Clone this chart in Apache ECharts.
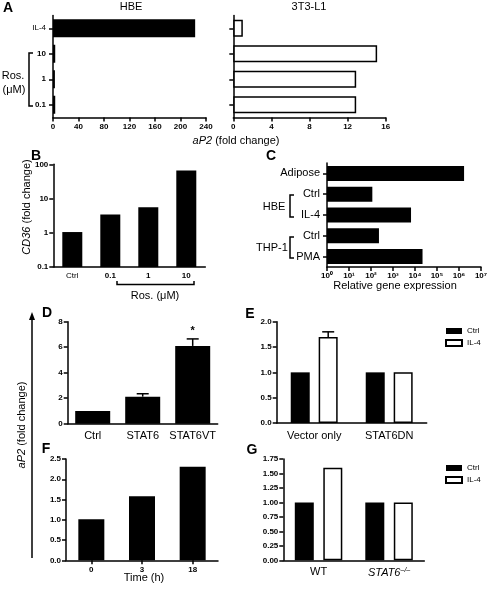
<!DOCTYPE html>
<html><head><meta charset="utf-8">
<script src="https://cdn.jsdelivr.net/npm/echarts@6/dist/echarts.min.js"></script>
<style>html,body{margin:0;padding:0;background:#fff}#c{width:491px;height:589px}</style>
</head><body><div id="c"></div>
<script>
const FONT = '"Liberation Sans", Arial, Helvetica, sans-serif';

// ---- data ----
// Panel A (aP2 fold change)
const aCats = ['IL-4', '10', '1', '0.1'];
const aHBE = [223, 3.5, 3, 3.5];
const a3T3 = [1.0, 15.1, 12.9, 12.9];
// Panel B (CD36 fold change, log)
const bCats = ['Ctrl', '0.1', '1', '10'];
const bVals = [1.05, 3.4, 5.6, 66];
// Panel C (relative gene expression, log)
const cKeys = ['Adipose', 'HBE Ctrl', 'HBE IL-4', 'THP-1 Ctrl', 'THP-1 PMA'];
const cLabels = ['Adipose', 'Ctrl', 'IL-4', 'Ctrl', 'PMA'];
const cVals = [1.7e6, 115, 6600, 230, 22000];
const cExpLabels = ['10⁰', '10¹', '10²', '10³', '10⁴', '10⁵', '10⁶', '10⁷'];
// Panel D
const dCats = ['Ctrl', 'STAT6', 'STAT6VT'];
const dVals = [1.0, 2.12, 6.1];
const dErr = [0, 0.23, 0.55];
const dSig = ['', '', '*'];
// Panel E
const eCats = ['Vector only', 'STAT6DN'];
const eCtrl = [1.0, 1.0];
const eIL4 = [1.70, 1.0];
const eIL4Err = [0.10, 0];
// Panel F
const fCats = ['0', '3', '18'];
const fVals = [1.01, 1.58, 2.31];
// Panel G
const gCats = ['WT', 'STAT6'];
const gCtrl = [1.0, 1.0];
const gIL4 = [1.60, 1.0];
const seriesNames = ['Ctrl', 'IL-4'];

// ---- styles ----
const axLine = { show: true, lineStyle: { color: '#000', width: 1.5 } };
const axTick = { show: true, length: 4, lineStyle: { color: '#000', width: 1.5 } };
const noSplit = { show: false };
function lbl(size, bold, margin, extra) {
  return Object.assign({ color: '#000', fontSize: size, fontWeight: bold ? 'bold' : 'normal', fontFamily: FONT, margin: margin, interval: 0, hideOverlap: false }, extra || {});
}
function valAxis(gi, min, max, interval, fmt, extra) {
  return Object.assign({
    gridIndex: gi, type: 'value', min, max, interval,
    axisLine: axLine, axisTick: axTick, splitLine: noSplit,
    axisLabel: lbl(8, true, 5, fmt ? { formatter: fmt } : {})
  }, extra || {});
}
function catAxis(gi, data, label, ticks, extra) {
  return Object.assign({
    gridIndex: gi, type: 'category', data,
    axisLine: axLine,
    axisTick: ticks ? Object.assign({ alignWithLabel: true, interval: 0 }, axTick) : { show: false },
    splitLine: noSplit, axisLabel: label
  }, extra || {});
}
const black = { color: '#000' };
const white = { color: '#fff', borderColor: '#000', borderWidth: 1.5 };

function errSeries(ai, vals, errs, offset, sig) {
  return {
    type: 'custom', xAxisIndex: ai, yAxisIndex: ai, silent: true, z: 5,
    data: vals.map((v, i) => [i, v, errs[i]]),
    renderItem(params, api) {
      const i = api.value(0), v = api.value(1), e = api.value(2);
      const p0 = api.coord([i, v]), p1 = api.coord([i, v + e]);
      const x = p0[0] + offset;
      const ch = [];
      if (e > 0) {
        ch.push({ type: 'line', shape: { x1: x, y1: p0[1], x2: x, y2: p1[1] }, style: { stroke: '#000', lineWidth: 1.5 } });
        ch.push({ type: 'line', shape: { x1: x - 6, y1: p1[1], x2: x + 6, y2: p1[1] }, style: { stroke: '#000', lineWidth: 1.5 } });
      }
      const s = sig ? sig[params.dataIndex] : '';
      if (s) ch.push({ type: 'text', x: x, y: p1[1] - 2, style: { text: s, fill: '#000', font: 'bold 11px ' + FONT, align: 'center', verticalAlign: 'bottom', textAlign: 'center', textVerticalAlign: 'bottom' } });
      return { type: 'group', children: ch };
    }
  };
}

function txt(x, y, text, size, o) {
  o = o || {};
  const st = {
    text, fill: '#000', font: (o.italic ? 'italic ' : '') + (o.bold ? 'bold ' : '') + size + 'px ' + FONT,
    align: o.align || 'center', verticalAlign: o.va || 'middle',
    textAlign: o.align || 'center', textVerticalAlign: o.va || 'middle'
  };
  if (o.rich) st.rich = o.rich;
  return { type: 'text', x, y, rotation: o.rot || 0, style: st, silent: true };
}
function poly(points) {
  return { type: 'polyline', shape: { points }, style: { stroke: '#000', lineWidth: 1.5, fill: null }, silent: true };
}
const richAP2 = {
  i: { fontStyle: 'italic', fontSize: 11, fontFamily: FONT, fill: '#000', color: '#000' },
  n: { fontSize: 11, fontFamily: FONT, fill: '#000', color: '#000' }
};

const option = {
  animation: false,
  backgroundColor: '#fff',
  textStyle: { fontFamily: FONT, color: '#000' },
  grid: [
    { left: 53, top: 15.5, width: 153, height: 102 },       // A HBE
    { left: 233.3, top: 15.5, width: 152.4, height: 102 },  // A 3T3-L1
    { left: 53.3, top: 164.3, width: 152, height: 102.7 },  // B
    { left: 327, top: 163, width: 154, height: 104 },       // C
    { left: 67.7, top: 321.7, width: 150, height: 102 },    // D
    { left: 276.7, top: 321.7, width: 150, height: 101.3 }, // E
    { left: 66, top: 459, width: 152, height: 101.3 },      // F
    { left: 283.3, top: 459, width: 141, height: 101.3 }    // G
  ],
  xAxis: [
    valAxis(0, 0, 240, 40),
    valAxis(1, 0, 16, 4),
    catAxis(2, bCats, lbl(8, true, 5, {
      formatter: (v, i) => i === 0 ? '{n|' + v + '}' : v,
      rich: { n: { fontWeight: 'normal', fontSize: 8, fontFamily: FONT, color: '#000' } }
    }), false),
    {
      gridIndex: 3, type: 'log', logBase: 10, min: 1, max: 1e7,
      axisLine: axLine, axisTick: axTick, splitLine: noSplit,
      axisLabel: lbl(8, true, 5, { formatter: v => cExpLabels[Math.round(Math.log10(v))] })
    },
    catAxis(4, dCats, lbl(11, false, 7), false),
    catAxis(5, eCats, lbl(11, false, 7), false),
    catAxis(6, fCats, lbl(8, true, 5), true),
    catAxis(7, gCats, lbl(11, false, 6, {
      formatter: (v) => v === 'STAT6' ? '{i|STAT6}{s|–/–}' : v,
      rich: {
        i: { fontStyle: 'italic', fontSize: 11, fontFamily: FONT, color: '#000', lineHeight: 13 },
        s: { fontStyle: 'italic', fontSize: 7, fontFamily: FONT, color: '#000', verticalAlign: 'top', lineHeight: 13 }
      }
    }), false)
  ],
  yAxis: [
    catAxis(0, aCats, lbl(8, true, 7, {
      formatter: (v, i) => i === 0 ? '{n|' + v + '}' : v,
      rich: { n: { fontWeight: 'normal', fontSize: 8, fontFamily: FONT, color: '#000' } }
    }), true, { inverse: true }),
    catAxis(1, aCats, { show: false }, true, { inverse: true }),
    {
      gridIndex: 2, type: 'log', logBase: 10, min: 0.1, max: 100, startValue: 0.1,
      axisLine: axLine, axisTick: axTick, splitLine: noSplit,
      axisLabel: lbl(8, true, 5)
    },
    catAxis(3, cKeys, lbl(11, false, 7, { formatter: (v, i) => cLabels[i] }), true, { inverse: true }),
    valAxis(4, 0, 8, 2),
    valAxis(5, 0, 2, 0.5, v => v.toFixed(1)),
    valAxis(6, 0, 2.5, 0.5, v => v.toFixed(1)),
    valAxis(7, 0, 1.75, 0.25, v => v.toFixed(2))
  ],
  legend: [
    { data: seriesNames, orient: 'vertical', left: 440, top: 322, itemWidth: 16, itemHeight: 6, itemGap: 4, icon: 'rect', selectedMode: false, textStyle: { fontSize: 8, color: '#000', fontFamily: FONT } },
    { data: seriesNames, orient: 'vertical', left: 440, top: 459, itemWidth: 16, itemHeight: 6, itemGap: 4, icon: 'rect', selectedMode: false, textStyle: { fontSize: 8, color: '#000', fontFamily: FONT } }
  ],
  series: [
    { name: 'A HBE', type: 'bar', xAxisIndex: 0, yAxisIndex: 0, data: aHBE, barWidth: 18, itemStyle: black, silent: true },
    { name: 'A 3T3', type: 'bar', xAxisIndex: 1, yAxisIndex: 1, data: a3T3, barWidth: 17, itemStyle: white, silent: true },
    { name: 'B', type: 'bar', xAxisIndex: 2, yAxisIndex: 2, data: bVals, barWidth: 20, itemStyle: black, silent: true },
    { name: 'C', type: 'bar', xAxisIndex: 3, yAxisIndex: 3, data: cVals, barWidth: 15, itemStyle: black, silent: true },
    { name: 'D', type: 'bar', xAxisIndex: 4, yAxisIndex: 4, data: dVals, barWidth: 35, itemStyle: black, silent: true },
    errSeries(4, dVals, dErr, 0, dSig),
    { name: seriesNames[0], type: 'bar', xAxisIndex: 5, yAxisIndex: 5, data: eCtrl, barWidth: 19, barGap: '47%', itemStyle: black, silent: true },
    { name: seriesNames[1], type: 'bar', xAxisIndex: 5, yAxisIndex: 5, data: eIL4, barWidth: 19, barGap: '47%', itemStyle: white, silent: true },
    errSeries(5, eIL4, eIL4Err, 14, null),
    { name: 'F', type: 'bar', xAxisIndex: 6, yAxisIndex: 6, data: fVals, barWidth: 26, itemStyle: black, silent: true },
    { name: seriesNames[0], type: 'bar', xAxisIndex: 7, yAxisIndex: 7, data: gCtrl, barWidth: 19, barGap: '50%', itemStyle: black, silent: true },
    { name: seriesNames[1], type: 'bar', xAxisIndex: 7, yAxisIndex: 7, data: gIL4, barWidth: 19, barGap: '50%', itemStyle: white, silent: true }
  ],
  graphic: [
    // Panel A
    txt(8, 8, 'A', 14, { bold: true }),
    txt(131, 7, 'HBE', 11),
    txt(309, 7, '3T3-L1', 11),
    txt(236, 141, '{i|aP2} {n|(fold change)}', 11, { rich: richAP2 }),
    poly([[33, 53], [29, 53], [29, 106], [33, 106]]),
    txt(13, 76, 'Ros.', 11),
    txt(14, 90, '(μM)', 11),
    // Panel B
    txt(36, 156, 'B', 14, { bold: true }),
    txt(27, 207, '{i|CD36} {n|(fold change)}', 11, { rich: richAP2, rot: Math.PI / 2 }),
    poly([[117, 281], [117, 284.5], [194, 284.5], [194, 281]]),
    txt(155, 296, 'Ros. (μM)', 11),
    // Panel C
    txt(271, 156, 'C', 14, { bold: true }),
    poly([[294, 195], [290, 195], [290, 217], [294, 217]]),
    txt(274, 207, 'HBE', 11),
    poly([[294, 237], [290, 237], [290, 258], [294, 258]]),
    txt(272, 248, 'THP-1', 11),
    txt(395, 286, 'Relative gene expression', 11),
    // Shared y label D-G
    { type: 'line', shape: { x1: 32, y1: 558, x2: 32, y2: 318 }, style: { stroke: '#000', lineWidth: 1.5 }, silent: true },
    { type: 'polygon', shape: { points: [[32, 312], [29, 320], [35, 320]] }, style: { fill: '#000' }, silent: true },
    txt(22, 425, '{i|aP2} {n|(fold change)}', 11, { rich: richAP2, rot: Math.PI / 2 }),
    // Panel letters
    txt(47, 313, 'D', 14, { bold: true }),
    txt(250, 314, 'E', 14, { bold: true }),
    txt(46, 449, 'F', 14, { bold: true }),
    txt(252, 450, 'G', 14, { bold: true }),
    txt(144, 578, 'Time (h)', 11)
  ]
};

const chart = echarts.init(document.getElementById('c'), null, { renderer: 'canvas', width: 491, height: 589 });
chart.setOption(option);
</script>
</body></html>
